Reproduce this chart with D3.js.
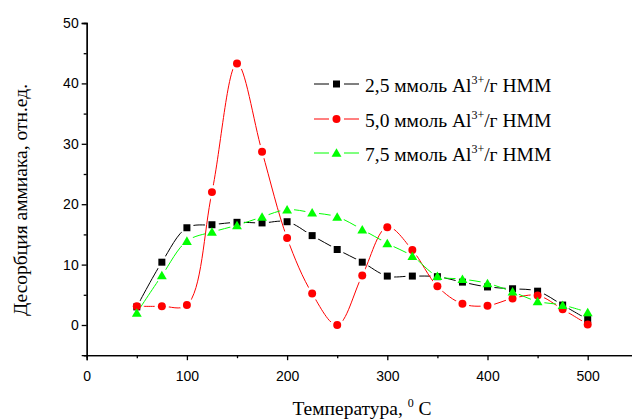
<!DOCTYPE html>
<html><head><meta charset="utf-8">
<script src="https://cdn.jsdelivr.net/npm/d3@7"></script>
<style>html,body{margin:0;padding:0;background:#fff;overflow:hidden}</style>
</head><body>
<svg id="chart" width="632" height="419"></svg>
<script>
const temps = [50,75,100,125,150,175,200,225,250,275,300,325,350,375,400,425,450,475,500];
const s25 = [3.0,10.4,16.1,16.6,17.0,16.9,17.1,14.8,12.5,10.4,8.1,8.1,8.0,7.1,6.3,6.0,5.6,3.3,0.9];
const s50 = [3.1,3.1,3.3,22.0,43.3,28.7,14.4,5.2,0.0,8.2,16.2,12.4,6.4,3.5,3.2,4.4,4.9,2.6,0.1];
const s75 = [2.0,8.2,13.9,15.4,16.5,17.9,19.1,18.6,17.9,15.8,13.5,11.4,8.1,7.6,6.9,5.5,3.9,3.3,2.1];
const seriesNames = ["2,5 ммоль Al", "5,0 ммоль Al", "7,5 ммоль Al"];
const xTicks = [0,100,200,300,400,500];
const yTicks = [0,10,20,30,40,50];
const xTitle = "Температура, ";
const yTitle = "Десорбция аммиака, отн.ед.";

const svg = d3.select("#chart");
const x = d3.scaleLinear().domain([0,550]).range([86.7, 637.8]);
const y = d3.scaleLinear().domain([-5,50]).range([355.2, 23]);
const serif = "Liberation Serif, Times New Roman, serif";

const series = [
  {name: seriesNames[0], vals: s25, color: "#000000", shape: "square"},
  {name: seriesNames[1], vals: s50, color: "#ff0000", shape: "circle"},
  {name: seriesNames[2], vals: s75, color: "#00ff00", shape: "triangle"}
];
const symFor = s => s === "square" ? d3.symbol(d3.symbolSquare, 49)
  : s === "circle" ? d3.symbol(d3.symbolCircle, 50)
  : d3.symbol(d3.symbolTriangle, 42);

// axes
const xAxis = d3.axisBottom(x).tickValues(xTicks).tickSize(5).tickFormat(d3.format("d"));
const xMinor = d3.axisBottom(x).tickValues([50,150,250,350,450]).tickSize(3).tickFormat("");
const yAxis = d3.axisLeft(y).tickValues(yTicks).tickSize(5).tickFormat(d3.format("d"));
const yMinor = d3.axisLeft(y).tickValues([-5,5,15,25,35,45]).tickSize(3).tickFormat("");

function styleAxis(g){
  g.select(".domain").attr("stroke","#000").attr("stroke-width",1.3);
  g.selectAll(".tick line").attr("stroke","#000").attr("stroke-width",1.3);
  g.selectAll(".tick text").attr("fill","#000").attr("font-family","Liberation Sans, Arial, sans-serif").attr("font-size","14px");
}
const gx = svg.append("g").attr("transform",`translate(0,${y(-5)})`).call(xAxis).call(styleAxis);
gx.selectAll(".tick text").attr("dy","1.25em");
svg.append("g").attr("transform",`translate(0,${y(-5)})`).call(xMinor).call(styleAxis);
const gy = svg.append("g").attr("transform",`translate(${x(0)},0)`).call(yAxis).call(styleAxis);
gy.selectAll(".tick text").attr("x",-8);
svg.append("g").attr("transform",`translate(${x(0)},0)`).call(yMinor).call(styleAxis);

// masks for line gaps around markers
const defs = svg.append("defs");
series.forEach((s,i) => {
  const m = defs.append("mask").attr("id","m"+i).attr("maskUnits","userSpaceOnUse")
    .attr("x",0).attr("y",0).attr("width",632).attr("height",419);
  m.append("rect").attr("width",632).attr("height",419).attr("fill","#fff");
  m.selectAll("circle").data(temps).join("circle")
    .attr("cx",(d)=>x(d)).attr("cy",(d,j)=>y(s.vals[j])).attr("r",7).attr("fill","#000");
});

const line = d3.line().curve(d3.curveCatmullRom.alpha(0.5)).x(d=>x(d[0])).y(d=>y(d[1]));
series.forEach((s,i) => {
  svg.append("path").datum(temps.map((t,j)=>[t,s.vals[j]]))
    .attr("d",line).attr("fill","none").attr("stroke",s.color).attr("stroke-width",1)
    .attr("mask",`url(#m${i})`);
});
series.forEach((s,i) => {
  svg.append("g").selectAll("path").data(temps).join("path")
    .attr("d",symFor(s.shape)())
    .attr("transform",(d,j)=>`translate(${x(d)},${y(s.vals[j]) + (s.shape==="triangle"?1:0)})`)
    .attr("fill",s.color);
});

// legend
const lg = svg.append("g");
const rowY = [84,119,153];
series.forEach((s,i) => {
  const yy = rowY[i];
  lg.append("line").attr("x1",314).attr("x2",329).attr("y1",yy).attr("y2",yy).attr("stroke",s.color).attr("stroke-width",1);
  lg.append("line").attr("x1",344).attr("x2",359).attr("y1",yy).attr("y2",yy).attr("stroke",s.color).attr("stroke-width",1);
  lg.append("path").attr("d",symFor(s.shape)()).attr("transform",`translate(336.5,${yy + (s.shape==="triangle"?1:0)})`).attr("fill",s.color);
  const t = lg.append("text").attr("x",365).attr("y",yy+8)
    .attr("font-family",serif).attr("font-size","19.5px").attr("fill","#000");
  t.append("tspan").text(s.name);
  t.append("tspan").attr("dy",-8).attr("font-size","12px").text("3+");
  t.append("tspan").attr("dy",8).text("/г НММ");
});

// axis titles
const xt = svg.append("text").attr("x",362).attr("y",415).attr("text-anchor","middle")
  .attr("font-family",serif).attr("font-size","19.5px").attr("fill","#000");
xt.append("tspan").text(xTitle);
xt.append("tspan").attr("dy",-8).attr("font-size","12px").text("0");
xt.append("tspan").attr("dy",8).text(" C");

svg.append("text").attr("transform","translate(27,200) rotate(-90)").attr("text-anchor","middle")
  .attr("font-family",serif).attr("font-size","19.5px").attr("fill","#000")
  .text(yTitle);
</script>
</body></html>
